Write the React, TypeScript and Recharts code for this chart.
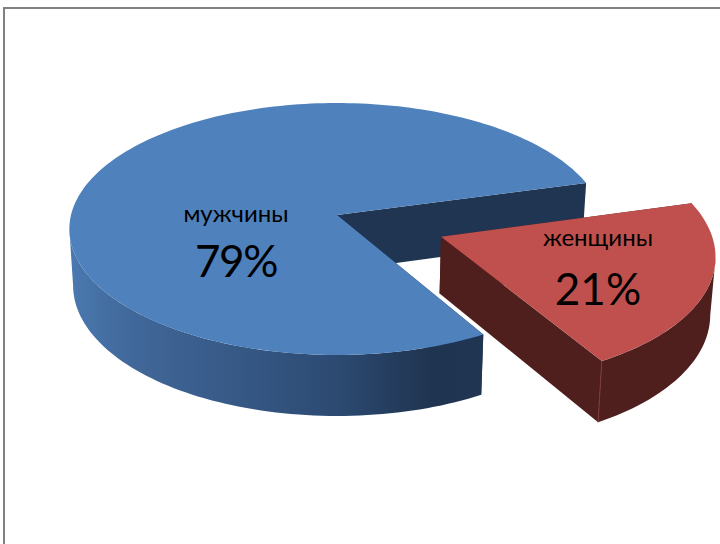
import React from 'react';
import { PieChart, Pie } from 'recharts';

const categories = ['мужчины', 'женщины'];
const shares = [79, 21];
const topColors = ['#4f81bd', '#c0504d'];
const cutColors = ['#1f3552', '#4f1f1d'];

const table = categories.map((name, i) => ({ name, value: shares[i], fill: topColors[i] }));

// Projection of the pie's plane (a circle seen in perspective)
const CX = 337;
const CY = 215;
const RADIUS = 266;
const SQUASH = 0.4677;
const PERSPECTIVE = 0.111;
const DEPTH = 56;
const BOTTOM_SCALE = 0.986;
const EXPLODE = [
  { u: 0, v: 0 },
  { u: 0.3837, v: -0.1708 },
];
const LABEL_AT = [
  { x: 236, nameY: 222, pctY: 277, spacing: -1.5 },
  { x: 598, nameY: 246, pctY: 305, spacing: 0 },
];

type P = { x: number; y: number };
const project = (u: number, v: number, low: boolean): P => {
  const w = 1 / (1 + PERSPECTIVE * v);
  const x = RADIUS * u * w;
  const y = -RADIUS * SQUASH * v * w;
  if (!low) return { x: CX + x, y: CY + y };
  return { x: CX + x * BOTTOM_SCALE, y: CY + y * BOTTOM_SCALE + DEPTH * w };
};
const rad = (d: number) => (d * Math.PI) / 180;
const arc = (a: number, b: number, off: { u: number; v: number }, low: boolean): P[] => {
  const n = Math.max(2, Math.ceil(Math.abs(b - a) / 1.5));
  const out: P[] = [];
  for (let i = 0; i <= n; i++) {
    const t = rad(a + ((b - a) * i) / n);
    out.push(project(off.u + Math.cos(t), off.v + Math.sin(t), low));
  }
  return out;
};
const toPath = (pts: P[]) =>
  pts.map((p, i) => `${i ? 'L' : 'M'}${p.x.toFixed(2)} ${p.y.toFixed(2)}`).join(' ') + ' Z';

// Angle of the sector's silhouette: where the rim reaches its leftmost / rightmost point.
const extremeAngle = (a: number, b: number, off: { u: number; v: number }, sign: number) => {
  let best = a;
  let bestX = -Infinity;
  for (let d = a; d <= b; d += 0.5) {
    const x = sign * project(off.u + Math.cos(rad(d)), off.v + Math.sin(rad(d)), false).x;
    if (x > bestX) {
      bestX = x;
      best = d;
    }
  }
  return best;
};

const Slice3D = (props: any) => {
  const { startAngle, endAngle, index, fill } = props;
  const off = EXPLODE[index];
  const a0 = project(off.u, off.v, false);
  const a1 = project(off.u, off.v, true);
  const edge = (deg: number, low: boolean) =>
    project(off.u + Math.cos(rad(deg)), off.v + Math.sin(rad(deg)), low);
  const cut = cutColors[index];
  const wallFrom = index === 0 ? extremeAngle(startAngle, endAngle, off, -1) : startAngle;
  const wallTo = index === 0 ? endAngle : extremeAngle(startAngle, endAngle, off, 1);
  const wall = [...arc(wallFrom, wallTo, off, false), ...arc(wallTo, wallFrom, off, true)];
  const top = [a0, ...arc(startAngle, endAngle, off, false)];
  const startCut = [a0, edge(startAngle, false), edge(startAngle, true), a1];
  const endCut = [a0, edge(endAngle, false), edge(endAngle, true), a1];
  const corner = edge(startAngle, false);
  const cornerLow = edge(startAngle, true);
  return (
    <g>
      <defs>
        <linearGradient id="blueWall" gradientUnits="userSpaceOnUse" x1="69" y1="0" x2="481" y2="0">
          <stop offset="0" stopColor="#4a79b0" />
          <stop offset="0.15" stopColor="#41689a" />
          <stop offset="0.65" stopColor="#2c4a72" />
          <stop offset="0.88" stopColor="#1f3450" />
          <stop offset="1" stopColor="#1f3552" />
        </linearGradient>
      </defs>
      <path d={toPath(endCut)} fill={cut} />
      <path d={toPath(startCut)} fill={cut} />
      <path d={toPath(wall)} fill={index === 0 ? 'url(#blueWall)' : cut} />
      {index === 1 && (
        <line x1={corner.x} y1={corner.y} x2={cornerLow.x} y2={cornerLow.y} stroke="#7d3a37" strokeWidth={1} />
      )}
      <path d={toPath(top)} fill={fill} />
    </g>
  );
};

const SliceLabel = (props: any) => {
  const { index, name, percent } = props;
  const at = LABEL_AT[index];
  return (
    <g fontFamily="Lato, 'Open Sans', 'Noto Sans', sans-serif" fill="#000" textAnchor="middle">
      <text x={at.x} y={at.nameY} fontSize={24}>{name}</text>
      <text x={at.x} y={at.pctY} fontSize={44} letterSpacing={at.spacing}>{`${Math.round(percent * 100)}%`}</text>
    </g>
  );
};

export default function App() {
  return (
    <div style={{ position: 'absolute', left: 0, top: 0, width: 720, height: 544, overflow: 'hidden', background: '#fff' }}>
      <div style={{ position: 'absolute', left: 3, top: 7, right: 0, bottom: 0, borderLeft: '2px solid #808080', borderTop: '2px solid #808080' }} />
      <div style={{ position: 'absolute', left: 0, top: 0 }}>
        <PieChart width={720} height={544} margin={{ top: 0, right: 0, bottom: 0, left: 0 }}>
          <Pie
            data={table}
            dataKey="value"
            nameKey="name"
            cx={CX}
            cy={CY}
            innerRadius={0}
            outerRadius={RADIUS}
            startAngle={15.4}
            endAngle={375.4}
            stroke="none"
            shape={Slice3D}
            label={SliceLabel}
            labelLine={false}
            isAnimationActive={false}
          />
        </PieChart>
      </div>
    </div>
  );
}
